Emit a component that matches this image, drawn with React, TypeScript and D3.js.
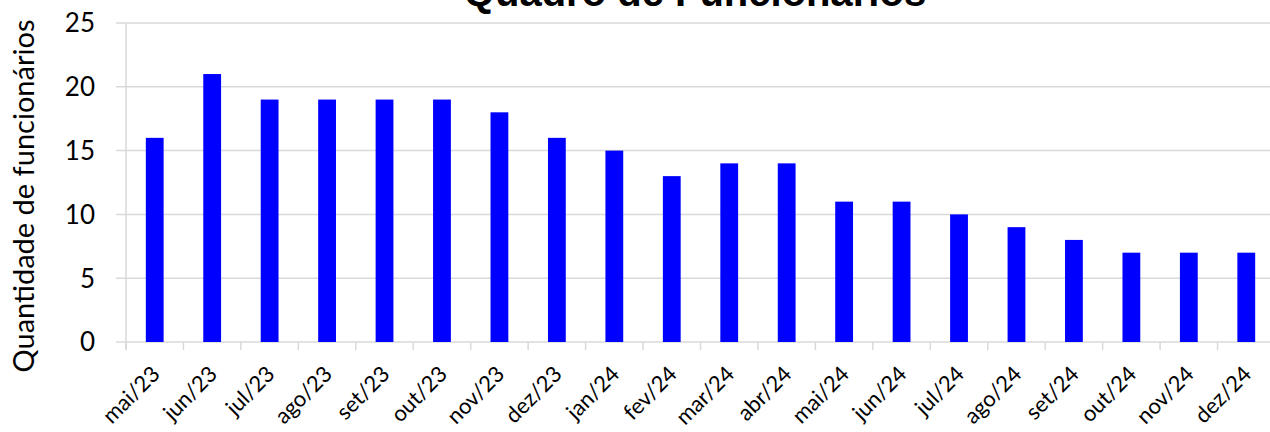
import { useEffect, useRef } from 'react';
import * as d3 from 'd3';

const months = [
  'mai/23', 'jun/23', 'jul/23', 'ago/23', 'set/23', 'out/23', 'nov/23', 'dez/23',
  'jan/24', 'fev/24', 'mar/24', 'abr/24', 'mai/24', 'jun/24', 'jul/24', 'ago/24',
  'set/24', 'out/24', 'nov/24', 'dez/24',
];
const headcount = [16, 21, 19, 19, 19, 19, 18, 16, 15, 13, 14, 14, 11, 11, 10, 9, 8, 7, 7, 7];
const yTicks = [0, 5, 10, 15, 20, 25];

const title = 'Quadro de Funcionários';
const yLabel = 'Quantidade de funcionários';

const W = 1270;
const H = 432;
const FONT = 'Lato, "Open Sans", sans-serif';

export default function App() {
  const ref = useRef<SVGSVGElement>(null);

  useEffect(() => {
    if (!ref.current) return;
    const svg = d3.select(ref.current);
    svg.selectAll('*').remove();

    const left = 126, right = 1275, top = 23, bottom = 342;

    const x = d3.scaleBand<string>().domain(months).range([left, right]).paddingInner(0.69).paddingOuter(0.345);
    const step = (right - left) / months.length;
    const y = d3.scaleLinear().domain([0, 25]).range([bottom, top]);

    // grid
    svg.append('g')
      .selectAll('line')
      .data(yTicks)
      .enter().append('line')
      .attr('x1', left - 10).attr('x2', W)
      .attr('y1', d => y(d)).attr('y2', d => y(d))
      .attr('stroke', '#d9d9d9').attr('stroke-width', 1.5);

    // y axis line
    svg.append('line')
      .attr('x1', left).attr('x2', left)
      .attr('y1', top).attr('y2', bottom + 8)
      .attr('stroke', '#d9d9d9').attr('stroke-width', 1.5);

    // x category ticks
    svg.append('g')
      .selectAll('line')
      .data(d3.range(months.length + 1))
      .enter().append('line')
      .attr('x1', i => left + i * step).attr('x2', i => left + i * step)
      .attr('y1', bottom).attr('y2', bottom + 8)
      .attr('stroke', '#d9d9d9').attr('stroke-width', 1.5);

    // bars
    svg.append('g')
      .selectAll('rect')
      .data(headcount)
      .enter().append('rect')
      .attr('x', (_, i) => x(months[i])!)
      .attr('y', d => y(d))
      .attr('width', x.bandwidth())
      .attr('height', d => bottom - y(d))
      .attr('fill', '#0000ff');

    // y tick labels
    svg.append('g')
      .selectAll('text')
      .data(yTicks)
      .enter().append('text')
      .attr('x', 95).attr('y', d => y(d))
      .attr('dy', '0.36em')
      .attr('text-anchor', 'end')
      .attr('font-family', FONT).attr('font-size', 26)
      .attr('fill', '#000')
      .text(d => d);

    // x tick labels
    svg.append('g')
      .selectAll('text')
      .data(months)
      .enter().append('text')
      .attr('transform', d => `translate(${x(d)! + x.bandwidth() / 2 + 1},${bottom + 28}) rotate(-45)`)
      .attr('text-anchor', 'end')
      .attr('dy', '0.35em')
      .attr('font-family', FONT).attr('font-size', 22)
      .attr('fill', '#000')
      .text(d => d);

    // y label
    svg.append('text')
      .attr('transform', `translate(34,196) rotate(-90)`)
      .attr('text-anchor', 'middle')
      .attr('font-family', FONT).attr('font-size', 29)
      .attr('fill', '#000')
      .text(yLabel);

    // title (clipped at top, as in the original)
    svg.append('text')
      .attr('x', 695).attr('y', 6)
      .attr('text-anchor', 'middle')
      .attr('font-family', '"Liberation Sans", Arial, sans-serif')
      .attr('font-weight', 'bold').attr('font-size', 40)
      .attr('fill', '#000')
      .text(title);
  }, []);

  return (
    <svg ref={ref} width={W} height={H}
      style={{ position: 'absolute', left: 0, top: 0, background: '#fff' }} />
  );
}
